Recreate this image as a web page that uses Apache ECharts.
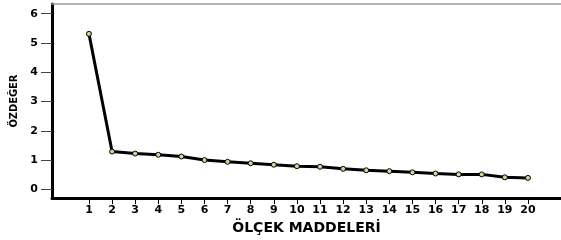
<!DOCTYPE html>
<html><head><meta charset="utf-8">
<script src="https://cdn.jsdelivr.net/npm/echarts@6/dist/echarts.min.js"></script>
<style>html,body{margin:0;padding:0;background:#fff}#c{width:561px;height:240px}</style>
</head><body><div id="c"></div>
<script>
const items = [1,2,3,4,5,6,7,8,9,10,11,12,13,14,15,16,17,18,19,20];
const eigenvalues = [5.31,1.29,1.22,1.18,1.12,1.00,0.94,0.89,0.84,0.79,0.77,0.70,0.65,0.62,0.58,0.54,0.51,0.51,0.41,0.39];
const yTicks = [0,1,2,3,4,5,6];
const xTitle = 'ÖLÇEK MADDELERİ';
const yTitle = 'ÖZDEĞER';

const chart = echarts.init(document.getElementById('c'));
const font = 'DejaVu Sans';
chart.setOption({
  animation:false,
  grid:{left:52,right:0,top:4,bottom:39},
  xAxis:[{
    type:'value', min:-0.6, max:21.43,
    axisLine:{onZero:false, lineStyle:{color:'#000',width:3}},
    axisTick:{customValues:items, length:6, lineStyle:{color:'#000',width:1}},
    axisLabel:{customValues:items, color:'#000', fontFamily:font, fontWeight:'bold', fontSize:11, margin:7},
    splitLine:{show:false},
    name:xTitle, nameLocation:'middle', nameGap:21,
    nameTextStyle:{color:'#000', fontFamily:font, fontWeight:'bold', fontSize:14}
  },{
    type:'value', position:'top', min:-0.6, max:21.43,
    axisLine:{show:true,onZero:false,lineStyle:{color:'#999',width:1.5}},
    axisTick:{show:false}, axisLabel:{show:false}, splitLine:{show:false}
  }],
  yAxis:{
    type:'value', min:-0.3, max:6.33,
    axisLine:{show:true, onZero:false, lineStyle:{color:'#000',width:3}},
    axisTick:{show:true, customValues:yTicks, length:11, lineStyle:{color:'#444',width:1}},
    axisLabel:{customValues:yTicks, color:'#000', fontFamily:font, fontWeight:'bold', fontSize:11, margin:14},
    splitLine:{show:false},
    name:yTitle, nameLocation:'middle', nameGap:21, nameRotate:90,
    nameTextStyle:{color:'#000', fontFamily:"'DejaVu Sans Condensed', 'DejaVu Sans'", fontWeight:'bold', fontSize:11}
  },
  series:[{
    type:'line',
    data:items.map((x,i)=>[x,eigenvalues[i]]),
    symbol:'circle', symbolSize:5,
    lineStyle:{color:'#000',width:3},
    itemStyle:{color:'#d8d09a',borderColor:'#000',borderWidth:1}
  }]
});
</script></body></html>
